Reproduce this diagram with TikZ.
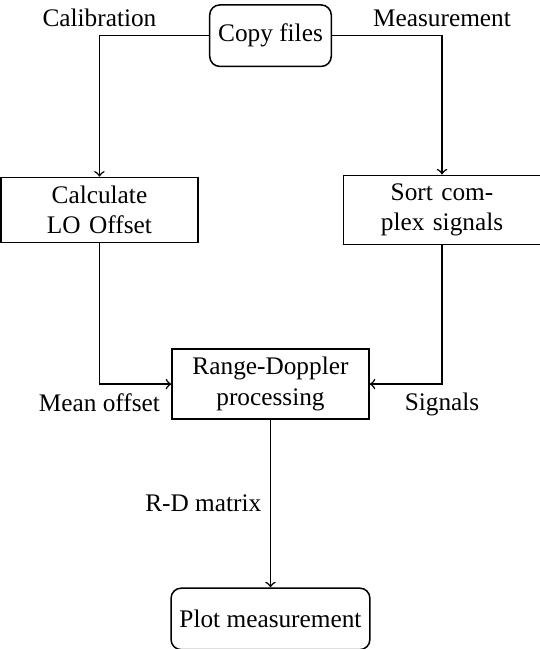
\documentclass[tikz,border=0pt]{standalone}
\usepackage{fontspec}
\setmainfont{Liberation Serif}
\usetikzlibrary{calc}

\begin{document}
\begin{tikzpicture}[
    x=1pt, y=1pt, semithick,
    block/.style={draw, rectangle, text width=2.5cm, align=center},
    endblock/.style={draw, rectangle, rounded corners, minimum height=24.3pt},
    flow/.style={->}
  ]
        \pgfmathsetmacro{\mx}{106.9}
        \pgfmathsetmacro{\lx}{39.3}
        \pgfmathsetmacro{\rx}{174.7}
        \pgfmathsetmacro{\ry}{-83}
        \useasboundingbox (0,0) rectangle (213.4,-256.5);
        \coordinate (C) at (\mx,-14.1);
        \coordinate (R) at (\mx,-151.8);
        \coordinate (P) at (\mx,-244.6);
        \node[endblock] (copy) at (C) {Copy files};
        \node[block] (calc) at (\lx,\ry) {Calculate\\LO Offset};
        \node[block] (sort) at (\rx,\ry) {Sort com-\\plex signals};
        \node[block] (rd) at (R) {Range-Doppler\\processing};
        \node[endblock] (plot) at (P) {Plot measurement};
        \draw[flow] (copy.west) -| node[pos=0.5, above] {Calibration} (calc.north);
        \draw[flow] (copy.east) -| node[pos=0.5, above] {Measurement} (sort.north);
        \draw[flow] (calc.south) |- node[pos=0.5, below] {Mean offset} (rd.west);
        \draw[flow] (sort.south) |- node[pos=0.5, below] {Signals} (rd.east);
        \draw[flow] (rd.south) -- node[left] {R-D matrix} (plot.north);
        % \draw[help lines] (0,0) rectangle (213.4,-256.5);
    \end{tikzpicture}
\end{document}
